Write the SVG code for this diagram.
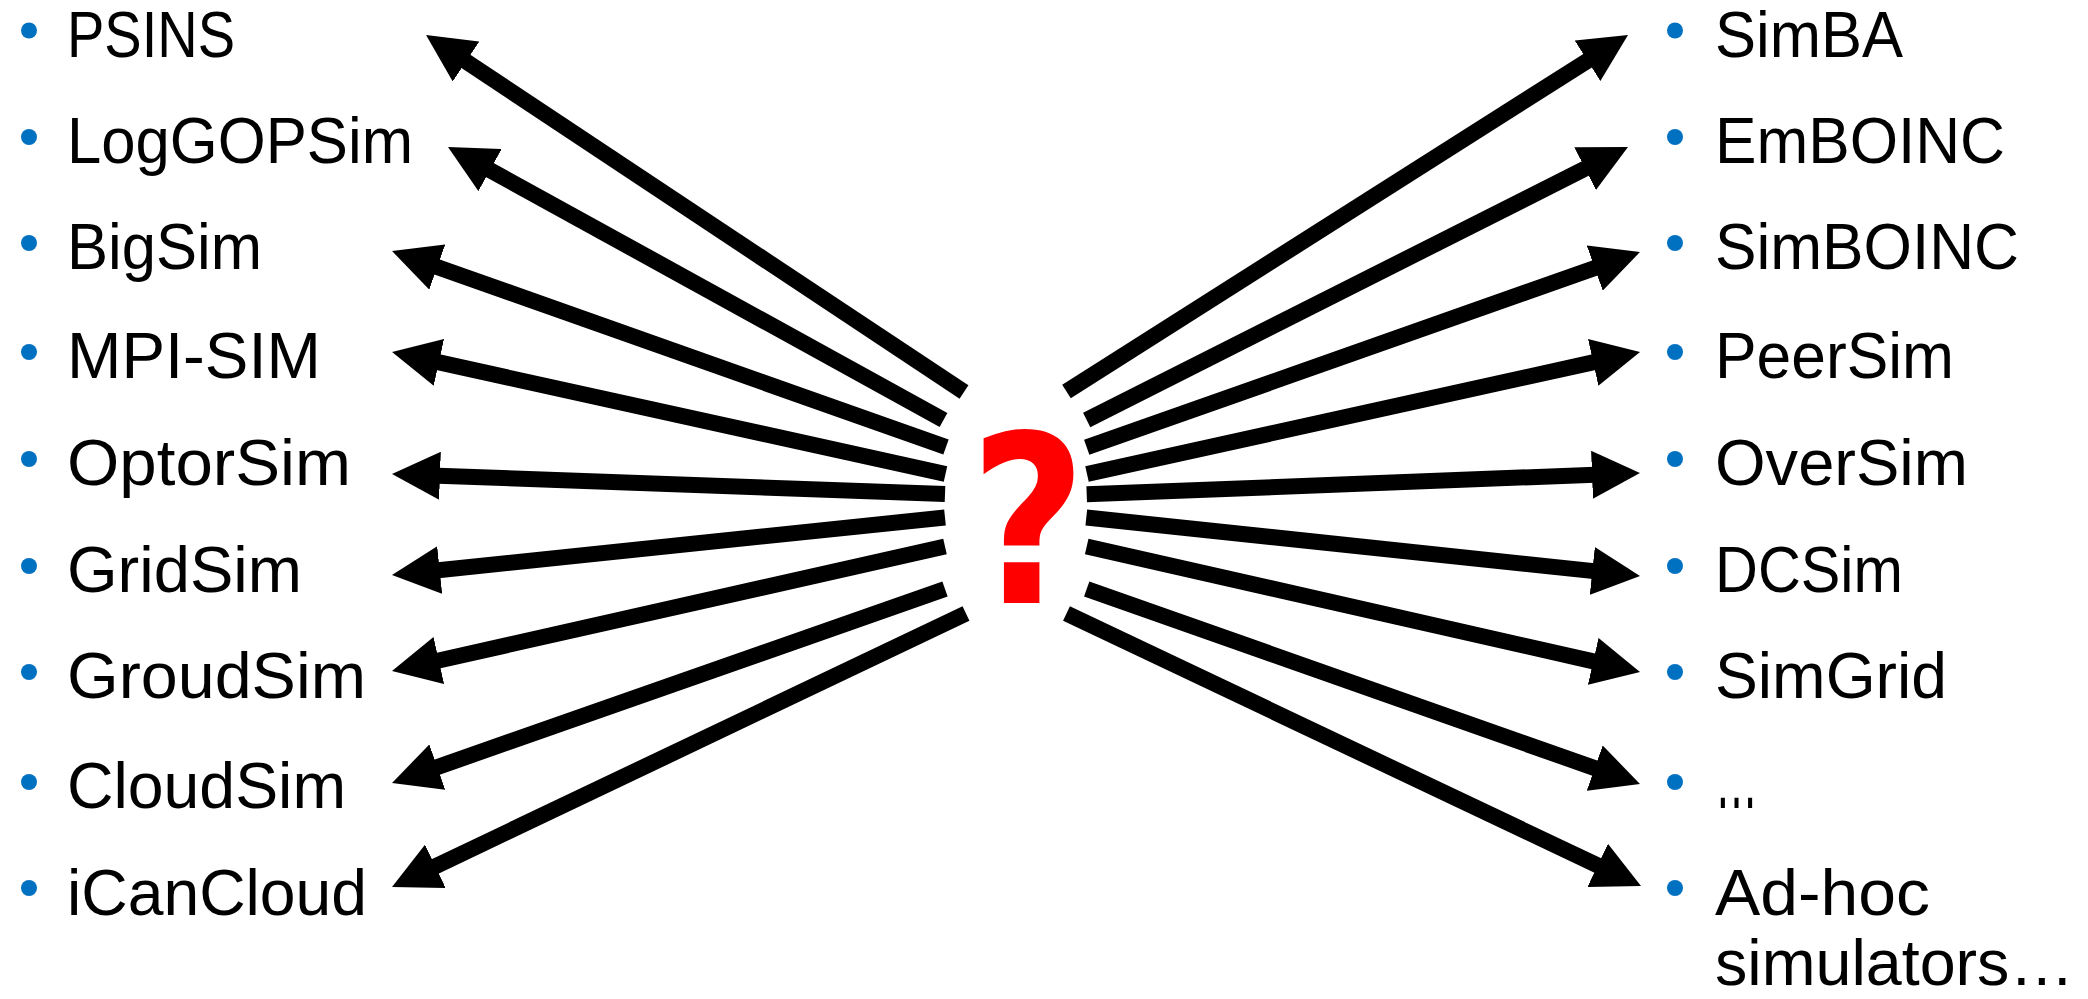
<svg xmlns="http://www.w3.org/2000/svg" width="2088" height="999" viewBox="0 0 2088 999">
<defs>
<style>
.lbl{font-family:"Liberation Sans",Arial,sans-serif;font-size:65px;fill:#000}
.bul{fill:#0070C0}
.arr{stroke:#000;stroke-width:16;fill:none;stroke-linecap:butt;marker-end:url(#ah)}
.q{font-family:"DejaVu Sans",sans-serif;font-weight:bold;font-size:234px;fill:#FF0000}
</style>
<marker id="ah" viewBox="0 0 3 3" refX="1" refY="1.5" markerWidth="3" markerHeight="3" markerUnits="strokeWidth" orient="auto">
<path d="M0,0 L3,1.5 L0,3 z" fill="#000"/>
</marker>
</defs>
<rect width="2088" height="999" fill="#fff"/>
<g id="connectors">
<line class="arr" x1="964" y1="392" x2="452.7" y2="52.7"/>
<line class="arr" x1="943.5" y1="420" x2="476" y2="162.4"/>
<line class="arr" x1="946" y1="447" x2="422.2" y2="261.7"/>
<line class="arr" x1="945.5" y1="474" x2="423.3" y2="358.9"/>
<line class="arr" x1="945" y1="494" x2="424" y2="475.2"/>
<line class="arr" x1="945" y1="517.5" x2="423.8" y2="571.7"/>
<line class="arr" x1="945" y1="546.5" x2="423.2" y2="664"/>
<line class="arr" x1="945" y1="589" x2="422.2" y2="772.4"/>
<line class="arr" x1="966" y1="613.5" x2="420.9" y2="873.2"/>
<line class="arr" x1="1066.5" y1="391.5" x2="1601" y2="52.2"/>
<line class="arr" x1="1086.7" y1="420" x2="1599.4" y2="161.4"/>
<line class="arr" x1="1086.7" y1="447.3" x2="1609.8" y2="262.7"/>
<line class="arr" x1="1087" y1="474" x2="1608.8" y2="358.9"/>
<line class="arr" x1="1086.7" y1="494.3" x2="1608" y2="474.2"/>
<line class="arr" x1="1086.3" y1="517.5" x2="1608.2" y2="572.6"/>
<line class="arr" x1="1086.7" y1="546.5" x2="1608.8" y2="664.9"/>
<line class="arr" x1="1086.7" y1="589" x2="1609.8" y2="773.4"/>
<line class="arr" x1="1066.5" y1="613.5" x2="1612.1" y2="872.3"/>
</g>
<g id="question"><text class="q" x="0" y="0" text-anchor="middle" transform="translate(1028,603) scale(0.86,1)">?</text></g>
<g id="psins"><circle class="bul" cx="29" cy="30.5" r="8"/><text class="lbl" x="67" y="57" textLength="168" lengthAdjust="spacingAndGlyphs">PSINS</text></g>
<g id="loggopsim"><circle class="bul" cx="29" cy="137" r="8"/><text class="lbl" x="67" y="163" textLength="346" lengthAdjust="spacingAndGlyphs">LogGOPSim</text></g>
<g id="bigsim"><circle class="bul" cx="29" cy="243" r="8"/><text class="lbl" x="67" y="269" textLength="195" lengthAdjust="spacingAndGlyphs">BigSim</text></g>
<g id="mpisim"><circle class="bul" cx="29" cy="352" r="8"/><text class="lbl" x="67" y="378" textLength="254" lengthAdjust="spacingAndGlyphs">MPI-SIM</text></g>
<g id="optorsim"><circle class="bul" cx="29" cy="459" r="8"/><text class="lbl" x="67" y="485" textLength="284" lengthAdjust="spacingAndGlyphs">OptorSim</text></g>
<g id="gridsim"><circle class="bul" cx="29" cy="566" r="8"/><text class="lbl" x="67" y="592" textLength="235" lengthAdjust="spacingAndGlyphs">GridSim</text></g>
<g id="groudsim"><circle class="bul" cx="29" cy="672" r="8"/><text class="lbl" x="67" y="698" textLength="299" lengthAdjust="spacingAndGlyphs">GroudSim</text></g>
<g id="cloudsim"><circle class="bul" cx="29" cy="782" r="8"/><text class="lbl" x="67" y="808" textLength="279" lengthAdjust="spacingAndGlyphs">CloudSim</text></g>
<g id="icancloud"><circle class="bul" cx="29" cy="888" r="8"/><text class="lbl" x="67" y="915" textLength="300" lengthAdjust="spacingAndGlyphs">iCanCloud</text></g>
<g id="simba"><circle class="bul" cx="1675" cy="30.5" r="8"/><text class="lbl" x="1715" y="57" textLength="188" lengthAdjust="spacingAndGlyphs">SimBA</text></g>
<g id="emboinc"><circle class="bul" cx="1675" cy="137" r="8"/><text class="lbl" x="1715" y="163" textLength="290" lengthAdjust="spacingAndGlyphs">EmBOINC</text></g>
<g id="simboinc"><circle class="bul" cx="1675" cy="243" r="8"/><text class="lbl" x="1715" y="269" textLength="304" lengthAdjust="spacingAndGlyphs">SimBOINC</text></g>
<g id="peersim"><circle class="bul" cx="1675" cy="352" r="8"/><text class="lbl" x="1715" y="378" textLength="239" lengthAdjust="spacingAndGlyphs">PeerSim</text></g>
<g id="oversim"><circle class="bul" cx="1675" cy="459" r="8"/><text class="lbl" x="1715" y="485" textLength="253" lengthAdjust="spacingAndGlyphs">OverSim</text></g>
<g id="dcsim"><circle class="bul" cx="1675" cy="566" r="8"/><text class="lbl" x="1715" y="592" textLength="188" lengthAdjust="spacingAndGlyphs">DCSim</text></g>
<g id="simgrid"><circle class="bul" cx="1675" cy="672" r="8"/><text class="lbl" x="1715" y="698" textLength="232" lengthAdjust="spacingAndGlyphs">SimGrid</text></g>
<g id="etc"><circle class="bul" cx="1675" cy="782" r="8"/><text class="lbl" x="1715" y="808" style="font-size:95px" textLength="43" lengthAdjust="spacingAndGlyphs">…</text></g>
<g id="adhoc"><circle class="bul" cx="1675" cy="888" r="8"/><text class="lbl" x="1715" y="915" textLength="215" lengthAdjust="spacingAndGlyphs">Ad-hoc</text><text class="lbl" x="1715" y="985" textLength="359" lengthAdjust="spacingAndGlyphs">simulators…</text></g>
</svg>
